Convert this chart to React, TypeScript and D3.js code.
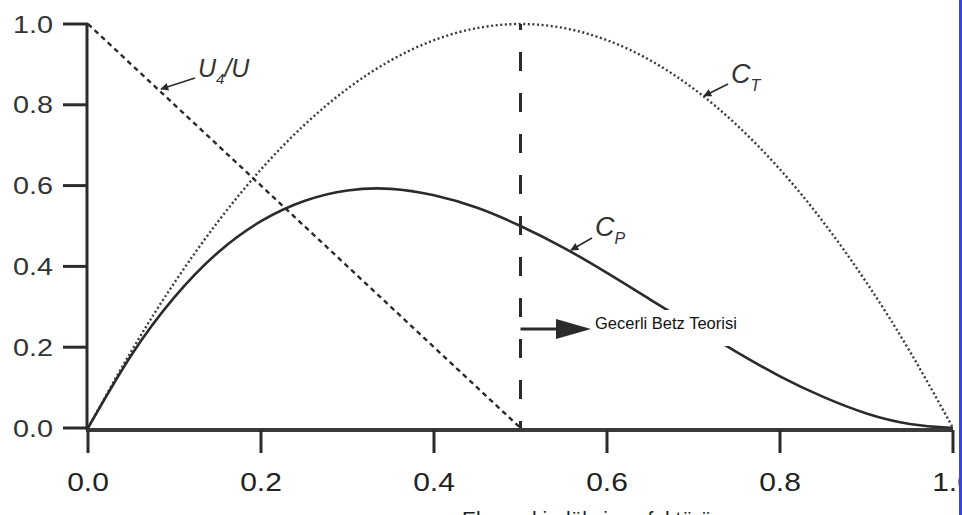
import * as d3 from "d3";

const WIDTH = 962;
const HEIGHT = 515;

// axial induction factor a at 0.05 steps
const A_VALUES = [
  0, 0.05, 0.1, 0.15, 0.2, 0.25, 0.3, 0.35, 0.4, 0.45, 0.5,
  0.55, 0.6, 0.65, 0.7, 0.75, 0.8, 0.85, 0.9, 0.95, 1.0,
];
const CP_VALUES = [
  0, 0.18, 0.324, 0.434, 0.512, 0.562, 0.588, 0.592, 0.576, 0.545, 0.5,
  0.446, 0.384, 0.318, 0.252, 0.188, 0.128, 0.077, 0.036, 0.01, 0,
];
const CT_VALUES = [
  0, 0.19, 0.36, 0.51, 0.64, 0.75, 0.84, 0.91, 0.96, 0.99, 1.0,
  0.99, 0.96, 0.91, 0.84, 0.75, 0.64, 0.51, 0.36, 0.19, 0,
];
const U4_A = [0, 0.5];
const U4_VALUES = [1.0, 0.0];

const TICKS = [0, 0.2, 0.4, 0.6, 0.8, 1.0];
const BETZ_LIMIT_A = 0.5;
const BETZ_LABEL = "Gecerli Betz Teorisi";
const X_TITLE = "Eksenel indüksiyon faktörü";

const x = d3.scaleLinear().domain([0, 1]).range([88, 953]);
const y = d3.scaleLinear().domain([0, 1]).range([428, 24]);

const INK = "#2b2b2b";
const FONT = "'Liberation Sans', Arial, Helvetica, sans-serif";

type Pt = [number, number];
const pts = (xs: number[], ys: number[]): Pt[] => xs.map((a, i) => [a, ys[i]]);

const curve = d3
  .line<Pt>()
  .x((d) => x(d[0]))
  .y((d) => y(d[1]))
  .curve(d3.curveNatural);
const straight = d3
  .line<Pt>()
  .x((d) => x(d[0]))
  .y((d) => y(d[1]));

function Pointer({ x1, y1, x2, y2 }: { x1: number; y1: number; x2: number; y2: number }) {
  return <line x1={x1} y1={y1} x2={x2} y2={y2} stroke={INK} strokeWidth={1.6} markerEnd="url(#head-small)" />;
}

export default function App() {
  const axisY = y(0) + 2;
  const xb = x(BETZ_LIMIT_A);
  const arrowY = 329;
  return (
    <svg
      width={WIDTH}
      height={HEIGHT}
      viewBox={`0 0 ${WIDTH} ${HEIGHT}`}
      style={{ position: "fixed", left: 0, top: 0, background: "#fff", fontFamily: FONT }}
    >
      <defs>
        <marker id="head-small" viewBox="0 0 10 10" refX="9" refY="5" markerWidth="12" markerHeight="8" orient="auto" markerUnits="userSpaceOnUse">
          <path d="M0,0 L10,5 L0,10 z" fill={INK} />
        </marker>
      </defs>
      <rect width={WIDTH} height={HEIGHT} fill="#fff" />

      {/* curves */}
      <path d={curve(pts(A_VALUES, CT_VALUES)) ?? ""} fill="none" stroke="#3a3a3a" strokeWidth={2.4} strokeDasharray="2 2.6" />
      <path d={straight(pts(U4_A, U4_VALUES)) ?? ""} fill="none" stroke={INK} strokeWidth={2.4} strokeDasharray="5 4" />
      <path d={curve(pts(A_VALUES, CP_VALUES)) ?? ""} fill="none" stroke={INK} strokeWidth={2.6} />

      {/* Betz limit marker */}
      <line x1={xb} x2={xb} y1={y(1)} y2={y(0)} stroke={INK} strokeWidth={3} strokeDasharray="19 22" strokeDashoffset={13} />
      <line x1={xb} x2={560} y1={arrowY} y2={arrowY} stroke={INK} strokeWidth={3} />
      <path d={`M556,${arrowY - 10} L591,${arrowY} L556,${arrowY + 10} z`} fill={INK} />
      <rect x={593} y={310} width={172} height={36} fill="#fff" />
      <text x={595} y={arrowY} fontSize={16.5} fill="#111">{BETZ_LABEL}</text>

      {/* axes */}
      <line x1={x(0) - 1} x2={x(0) - 1} y1={y(1) - 1} y2={axisY} stroke={INK} strokeWidth={3} />
      <line x1={x(0) - 2} x2={x(1)} y1={axisY} y2={axisY} stroke="#3a3a3a" strokeWidth={4} />
      {TICKS.map((t) => (
        <g key={`y${t}`}>
          <line x1={63} x2={x(0)} y1={y(t)} y2={y(t)} stroke={INK} strokeWidth={3} />
          <text transform={`translate(53,${y(t) + 8.5}) scale(1.2,1)`} textAnchor="end" fontSize={24} fill="#333">
            {t.toFixed(1)}
          </text>
        </g>
      ))}
      {TICKS.map((t) => (
        <g key={`x${t}`}>
          <line x1={x(t)} x2={x(t)} y1={axisY} y2={453} stroke={INK} strokeWidth={3} />
          <text transform={`translate(${x(t)},491) scale(1.2,1)`} textAnchor="middle" fontSize={25} fill="#222">
            {t.toFixed(1)}
          </text>
        </g>
      ))}
      <text x={462} y={526} fontSize={21} fill="#222">{X_TITLE}</text>

      {/* curve labels */}
      <text x={198} y={77} fontSize={25} fontStyle="italic" fill="#333">
        U<tspan fontSize={15} dy={7}>4</tspan><tspan dy={-7}>/U</tspan>
      </text>
      <Pointer x1={195} y1={78} x2={161} y2={89} />
      <text x={731} y={83} fontSize={27} fontStyle="italic" fill="#333">
        C<tspan fontSize={16} dy={8}>T</tspan>
      </text>
      <Pointer x1={728} y1={84} x2={704} y2={96} />
      <text x={595} y={236} fontSize={27} fontStyle="italic" fill="#333">
        C<tspan fontSize={16} dy={8}>P</tspan>
      </text>
      <Pointer x1={592} y1={238} x2={571} y2={250} />

      {/* scan border at the right edge */}
      <rect x={959} y={0} width={3} height={HEIGHT} fill="#3b46d6" />
    </svg>
  );
}
